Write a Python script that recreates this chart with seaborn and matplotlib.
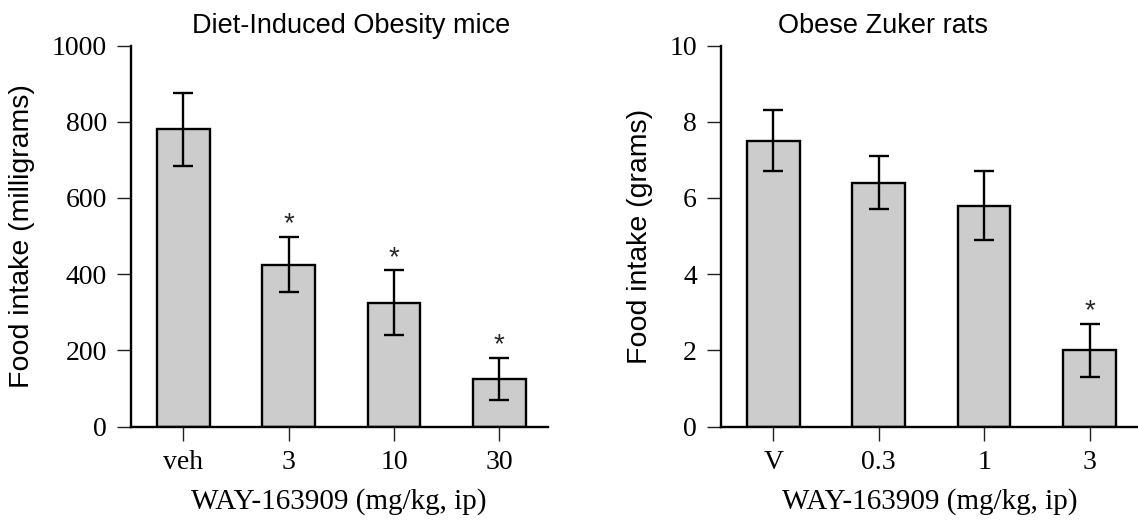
import matplotlib
matplotlib.use("Agg")
import matplotlib.pyplot as plt
import seaborn as sns
import pandas as pd

# ---- data ----
mice_doses = ["veh", "3", "10", "30"]
mice_intake = [780, 425, 325, 125]
mice_sem = [95, 72, 85, 55]
mice_sig = [False, True, True, True]

rat_doses = ["V", "0.3", "1", "3"]
rat_intake = [7.5, 6.4, 5.8, 2.0]
rat_sem = [0.8, 0.7, 0.9, 0.7]
rat_sig = [False, False, False, True]

titles = ["Diet-Induced Obesity mice", "Obese Zuker rats"]
ylabels = ["Food intake (milligrams)", "Food intake (grams)"]
xlabel = "WAY-163909 (mg/kg, ip)"
yticks_mice = [0, 200, 400, 600, 800, 1000]
yticks_rat = [0, 2, 4, 6, 8, 10]

sns.set_style("ticks")
SANS = ["Liberation Sans", "DejaVu Sans"]
SERIF = ["Liberation Serif", "DejaVu Serif"]

W, H = 1138, 529
fig = plt.figure(figsize=(W / 100, H / 100), dpi=100)
ax1 = fig.add_axes([130.7 / W, 1 - 426.7 / H, 417 / W, 381.2 / H])
ax2 = fig.add_axes([720.7 / W, 1 - 426.7 / H, 417.3 / W, 381.2 / H])

panels = [
    (ax1, mice_doses, mice_intake, mice_sem, mice_sig, yticks_mice, titles[0], ylabels[0], 0.528),
    (ax2, rat_doses, rat_intake, rat_sem, rat_sig, yticks_rat, titles[1], ylabels[1], 0.388),
]

for ax, doses, vals, errs, sig, yt, title, ylab, tx in panels:
    df = pd.DataFrame({"dose": doses, "intake": vals})
    sns.barplot(data=df, x="dose", y="intake", order=doses, color="#cccccc",
                edgecolor="black", linewidth=1.7, width=0.5, saturation=1,
                errorbar=None, ax=ax, zorder=2)
    xs = list(range(len(doses)))
    ax.errorbar(xs, vals, yerr=errs, fmt="none", ecolor="black", elinewidth=1.7,
                capsize=7, capthick=1.7, zorder=3)
    for i, (v, e, s) in enumerate(zip(vals, errs, sig)):
        if s:
            ax.annotate("*", xy=(i, v + e), xytext=(0, 4), textcoords="offset points",
                        ha="center", va="baseline", fontsize=20, family=SANS)
    ax.set_xlim(-0.5, 3.46)
    ax.set_ylim(yt[0], yt[-1])
    ax.set_yticks(yt)
    ax.set_yticklabels([str(t) for t in yt])
    sns.despine(ax=ax)
    for sp in ["left", "bottom"]:
        ax.spines[sp].set_linewidth(1.7)
        ax.spines[sp].set_color("black")
    ax.tick_params(axis="both", direction="out", length=10, width=1.0,
                   color="#222222", labelsize=20, pad=7)
    for lab in ax.get_xticklabels() + ax.get_yticklabels():
        lab.set_family(SERIF)
        lab.set_color("black")
    ax.set_xlabel(xlabel, fontsize=21, family=SERIF, labelpad=9, color="black")
    ax.set_ylabel(ylab, fontsize=20.5, family=SANS, labelpad=12, color="black")
    ax.set_title(title, fontsize=19.5, family=SANS, pad=9, x=tx, color="black")

fig.savefig("out.png", dpi=100)
